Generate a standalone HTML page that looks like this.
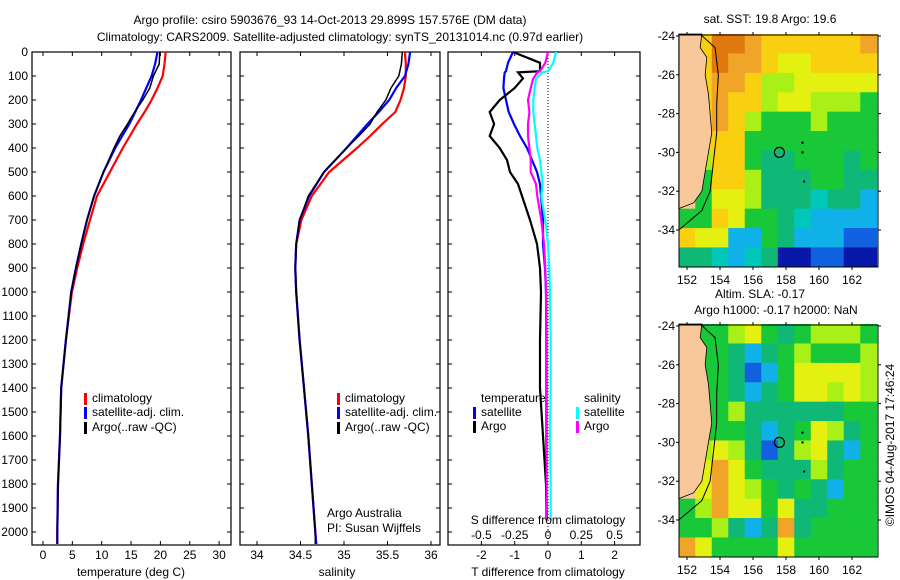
<!DOCTYPE html>
<html><head><meta charset="utf-8"><style>
body{margin:0;background:#fff}
svg{display:block;font-family:"Liberation Sans",sans-serif;font-size:12px}
</style></head><body>
<svg id="fig" width="900" height="580" viewBox="0 0 900 580">
<text x="330" y="24" text-anchor="middle">Argo profile: csiro 5903676_93 14-Oct-2013 29.899S 157.576E (DM data)</text>
<text x="340" y="41" text-anchor="middle">Climatology: CARS2009. Satellite-adjusted climatology: synTS_20131014.nc (0.97d earlier)</text>
</svg>
<script>
// ---- profile data ----
const depths=[0,50,100,150,200,250,300,350,400,500,600,700,800,900,1000,1200,1400,1600,1800,2000,2050];
const tClim=[20.9,20.7,20.4,19.5,18.5,17.3,16.0,14.8,13.6,11.4,9.2,8.0,6.85,5.83,4.93,3.9,3.1,2.89,2.55,2.44,2.44];
const tSat=[19.5,19.1,18.5,17.6,16.7,15.7,14.7,13.5,12.3,10.3,8.7,7.5,6.5,5.6,4.8,3.9,3.1,2.89,2.55,2.44,2.44];
const tArgo=[19.9,19.8,18.8,18.2,17.0,15.6,14.4,13.1,12.1,10.3,8.7,7.5,6.5,5.6,4.8,3.9,3.1,2.89,2.55,2.44,2.44];
const sClim=[35.70,35.71,35.71,35.69,35.65,35.59,35.44,35.30,35.15,34.83,34.63,34.51,34.45,34.44,34.45,34.49,34.54,34.59,34.63,34.67,34.68];
const sSat=[35.76,35.74,35.70,35.60,35.52,35.40,35.27,35.15,35.03,34.77,34.60,34.49,34.45,34.44,34.45,34.49,34.54,34.59,34.63,34.67,34.68];
const sArgo=[35.67,35.66,35.63,35.54,35.48,35.38,35.30,35.17,35.03,34.77,34.59,34.49,34.45,34.44,34.45,34.49,34.54,34.59,34.63,34.67,34.67];
const dDepths=[0,45,80,85,110,150,200,250,300,350,400,450,500,550,600,700,800,900,1000,1200,1400,1600,1800,1950];
const dTArgo=[-1.05,-0.24,-0.24,-0.9,-0.75,-1.0,-1.45,-1.75,-1.62,-1.75,-1.45,-1.23,-1.14,-0.9,-0.78,-0.54,-0.33,-0.24,-0.21,-0.24,-0.24,-0.15,-0.06,-0.03];
const dTSat=[-1.05,-1.2,-1.26,-1.3,-1.32,-1.34,-1.26,-1.18,-1.02,-0.84,-0.63,-0.48,-0.33,-0.24,-0.21,-0.15,-0.15,-0.09,-0.06,-0.05,-0.05,-0.05,-0.05,-0.05];
const dSArgo=[0,-0.02,-0.06,-0.08,-0.11,-0.13,-0.15,-0.14,-0.15,-0.15,-0.14,-0.13,-0.13,-0.09,-0.08,-0.05,-0.03,-0.02,-0.015,-0.01,-0.01,-0.01,-0.01,-0.01];
const dSSat=[0.06,0.04,0.0,-0.04,-0.09,-0.10,-0.11,-0.11,-0.10,-0.09,-0.08,-0.06,-0.05,-0.04,-0.05,-0.02,0.0,0.01,0.015,0.02,0.02,0.015,0.02,0.02];
const depthTicks=[0,100,200,300,400,500,600,700,800,900,1000,1100,1200,1300,1400,1500,1600,1700,1800,1900,2000];
const tTicks=[0,5,10,15,20,25,30];
const sTicks=[34,34.5,35,35.5,36];
const dTTicks=[-2,-1,0,1,2];
const dSTicks=[-0.5,-0.25,0,0.25,0.5];
// ---- map data (rows -24..-35 lat, cols 151.6..163.6 lon, 1 deg) ----
const sstRows=["LyooOyyyyyyO","LyoOOyYYyyyy","LyOOyggYYYYY","LyOyygYYgggG","LyOygGGGgGGG","LyyyGGGGGGGG","LgyyGttGGGtG","LGyygtttGGtt","LGYYgtttcttC","GGyYGGtcCCCC","yYYCCGtCCCbb","ttcCctBBbbBB"];
const slaRows=["LGGgYGtGgggG","LGGtCtGgGGGg","LGGtbCGYYYYg","LGGtCtGYYgYg","LGGgttttttGG","LGGGtCtGYgtG","LgYgtbtgYtCG","LYOYGtttgtGG","LYOYgGtGtCGG","GgOYYGYttGGG","GGgtCtOtGGGG","OYGGGGYGGGGG"];
const palette={L:"#f8c89a",o:"#e07a10",O:"#f0a428",y:"#f8d010",Y:"#e4f010",g:"#a8f018",G:"#18c838",t:"#10b878",c:"#00c8b8",C:"#10b0e8",b:"#1060e0",B:"#0818a8"};
const coast=[[151.5,-23.9],[152.9,-23.9],[152.8,-24.6],[153.2,-25.1],[153.1,-26],[153.3,-27],[153.4,-28],[153.5,-29],[153.3,-30],[153.1,-31],[152.9,-32],[152.4,-32.6],[151.5,-32.9]];
const shelf=[[152.8,-23.9],[153.7,-24.6],[153.9,-26],[153.8,-27.5],[153.8,-29],[153.6,-30.5],[153.4,-32],[152.9,-33],[151.5,-34]];
const latTicks=[-24,-26,-28,-30,-32,-34];
const lonTicks=[152,154,156,158,160,162];

const svg=document.getElementById('fig');
const NS="http://www.w3.org/2000/svg";
function mk(tag,attrs,parent){const e=document.createElementNS(NS,tag);for(const k in attrs)e.setAttribute(k,attrs[k]);(parent||svg).appendChild(e);return e;}
function txt(x,y,s,anchor,parent){const t=mk('text',{x:x,y:y,'text-anchor':anchor||'start'},parent);t.textContent=s;return t;}

const Y0=52,PY=0.24;
const yD=d=>Y0+d*PY;
const BOT=545;
function panel(x1,x2,name){
  const g=mk('g',{});
  
  
  const r=mk('rect',{x:x1,y:Y0,width:x2-x1,height:BOT-Y0,fill:'none',stroke:'#000','stroke-width':1.2},g);
  
  
  return g;
}
function line(g,xs,ds,fx,color,name,w){
  const pts=xs.map((v,i)=>fx(v).toFixed(1)+','+yD(ds[i]).toFixed(1)).join(' ');
  const p=mk('polyline',{points:pts,fill:'none',stroke:color,'stroke-width':w||2.2,'stroke-linejoin':'miter'},g);
  
  
}
function legend(g,x,y,color,label){
  mk('rect',{x:x,y:y-9,width:3,height:12,fill:color},g);
  const t=txt(x+8,y,label,'start',g);
  
  
}
// panel 1 temperature
const xT=v=>43+5.87*v;
const p1=panel(32,231,'temperature-panel');
depthTicks.forEach(d=>{mk('line',{x1:32,x2:36,y1:yD(d),y2:yD(d),stroke:'#000'},p1);mk('line',{x1:227,x2:231,y1:yD(d),y2:yD(d),stroke:'#000'},p1);const t=txt(28,yD(d)+4,String(d),'end',p1);});
tTicks.forEach(v=>{mk('line',{x1:xT(v),x2:xT(v),y1:BOT,y2:BOT-4,stroke:'#000'},p1);mk('line',{x1:xT(v),x2:xT(v),y1:Y0,y2:Y0+4,stroke:'#000'},p1);txt(xT(v),559,String(v),'middle',p1);});
const xl1=txt(131,576,'temperature (deg C)','middle',p1);
line(p1,tClim,depths,xT,'#f00','temp-climatology-line');
line(p1,tSat,depths,xT,'#00f','temp-satellite-line');
line(p1,tArgo,depths,xT,'#000','temp-argo-line',1.5);
legend(p1,84,402,'#f00','climatology');legend(p1,84,416,'#00f','satellite-adj. clim.');legend(p1,84,431,'#000','Argo(..raw -QC)');
// panel 2 salinity
const xS=v=>257+87*(v-34);
const p2=panel(240,440,'salinity-panel');
depthTicks.forEach(d=>{mk('line',{x1:240,x2:244,y1:yD(d),y2:yD(d),stroke:'#000'},p2);mk('line',{x1:436,x2:440,y1:yD(d),y2:yD(d),stroke:'#000'},p2);});
sTicks.forEach(v=>{mk('line',{x1:xS(v),x2:xS(v),y1:BOT,y2:BOT-4,stroke:'#000'},p2);mk('line',{x1:xS(v),x2:xS(v),y1:Y0,y2:Y0+4,stroke:'#000'},p2);txt(xS(v),559,String(v),'middle',p2);});
const xl2=txt(337,576,'salinity','middle',p2);
line(p2,sClim,depths,xS,'#f00','sal-climatology-line');
line(p2,sSat,depths,xS,'#00f','sal-satellite-line');
line(p2,sArgo,depths,xS,'#000','sal-argo-line',1.5);
legend(p2,337,402,'#f00','climatology');legend(p2,337,416,'#00f','satellite-adj. clim.');legend(p2,337,431,'#000','Argo(..raw -QC)');
txt(327,517,'Argo Australia','start',p2);txt(327,532,'PI: Susan Wijffels','start',p2);
// panel 3 differences
const xDT=v=>548+33.3*v;
const xDS=v=>548+133.2*v;
const p3=panel(448,640,'difference-panel');
depthTicks.forEach(d=>{mk('line',{x1:448,x2:452,y1:yD(d),y2:yD(d),stroke:'#000'},p3);mk('line',{x1:636,x2:640,y1:yD(d),y2:yD(d),stroke:'#000'},p3);});
dTTicks.forEach(v=>{mk('line',{x1:xDT(v),x2:xDT(v),y1:BOT,y2:BOT-4,stroke:'#000'},p3);mk('line',{x1:xDT(v),x2:xDT(v),y1:Y0,y2:Y0+4,stroke:'#000'},p3);txt(xDT(v),559,String(v),'middle',p3);});
dSTicks.forEach(v=>{txt(xDS(v),539,String(v),'middle',p3);});
mk('line',{x1:548,x2:548,y1:Y0,y2:BOT,stroke:'#000','stroke-dasharray':'1,2'},p3);
line(p3,dTSat,dDepths,xDT,'#00f','tdiff-satellite-line');
line(p3,dTArgo,dDepths,xDT,'#000','tdiff-argo-line');
line(p3,dSArgo,dDepths,xDS,'#f0f','sdiff-argo-line');
line(p3,dSSat,dDepths,xDS,'#0ff','sdiff-satellite-line');
txt(481,402,'temperature','start',p3);txt(584,402,'salinity','start',p3);
legend(p3,473,416,'#00f','satellite');legend(p3,473,430,'#000','Argo');
legend(p3,576,416,'#0ff','satellite');legend(p3,576,430,'#f0f','Argo');
const sl=txt(548,524,'S difference from climatology','middle',p3);
const tl=txt(548,576,'T difference from climatology','middle',p3);
// maps
function map(top,rows,name){
  const L=679,R=878,B=top+232;
  const lonX=v=>687+16.5*(v-152);
  const latY=v=>top+1+19.4*(-24-v);
  const g=mk('g',{});
  
  
  rows.forEach((row,i)=>{[...row].forEach((c,j)=>{
    const x0=lonX(151.5+j),x1=lonX(152.5+j),y0=latY(-23.9-i),y1=latY(-24.9-i);
    const cell=mk('rect',{x:x0,y:y0,width:x1-x0+0.5,height:y1-y0+0.5,fill:palette[c]},g);
    
    
  });});
  const land=mk('polygon',{points:coast.map(p=>lonX(p[0])+','+latY(p[1])).join(' '),fill:palette.L,stroke:'#000','stroke-width':0.8},g);
  
  mk('polyline',{points:shelf.map(p=>lonX(p[0])+','+latY(p[1])).join(' '),fill:'none',stroke:'#000','stroke-width':1},g);
  const c=mk('circle',{cx:lonX(157.6),cy:latY(-30),r:5,fill:'none',stroke:'#000','stroke-width':1.2},g);
  
  [[159,-29.5],[159,-30],[159.1,-31.5]].forEach(p=>mk('rect',{x:lonX(p[0])-1,y:latY(p[1])-1,width:2,height:2,fill:'#000'},g));
  mk('rect',{x:L,y:top,width:R-L,height:B-top,fill:'none',stroke:'#000'},g);
  latTicks.forEach(v=>{mk('line',{x1:L-3,x2:L,y1:latY(v),y2:latY(v),stroke:'#000'},g);mk('line',{x1:R,x2:R+3,y1:latY(v),y2:latY(v),stroke:'#000'},g);txt(675,latY(v)+4,String(v),'end',g);});
  lonTicks.forEach(v=>{mk('line',{x1:lonX(v),x2:lonX(v),y1:top-3,y2:top,stroke:'#000'},g);mk('line',{x1:lonX(v),x2:lonX(v),y1:B,y2:B+3,stroke:'#000'},g);txt(lonX(v),B+17,String(v),'middle',g);});
  return g;
}
const m1=map(35,sstRows,'sst-map');
txt(770,23,'sat. SST: 19.8 Argo: 19.6','middle',m1);
const m2=map(325,slaRows,'sla-map');
txt(760,298,'Altim. SLA: -0.17','middle',m2);txt(776,314,'Argo h1000: -0.17 h2000: NaN','middle',m2);
const cr=txt(0,0,'\u00A9IMOS 04-Aug-2017 17:46:24','middle');
cr.setAttribute('transform','translate(894,445) rotate(-90)');


</script>
</body></html>
